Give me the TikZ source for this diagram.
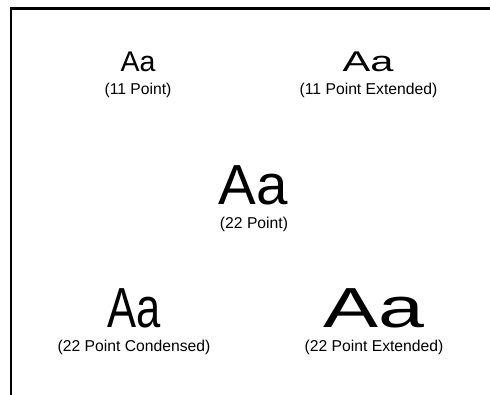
\documentclass[tikz,border=0pt]{standalone}
\usepackage{fontspec}
\setmainfont{Liberation Sans}
\newfontfamily\widefont[FakeStretch=1.46]{Liberation Sans}
\newfontfamily\narrowfont[FakeStretch=0.77]{Liberation Sans}
\usetikzlibrary{positioning}
\tikzstyle{small} = [anchor=base, inner sep=0pt, font=\fontsize{28.5}{30}\selectfont]
\tikzstyle{large} = [anchor=base, inner sep=0pt, font=\fontsize{56.5}{60}\selectfont]
\tikzstyle{caption} = [anchor=base, inner sep=0pt, font=\fontsize{15.7}{17}\selectfont]
\tikzstyle{frame} = [line width=2.5pt, line join=miter]

\begin{document}
\begin{tikzpicture}[x=1pt, y=-1pt]
                    \useasboundingbox (0,0) rectangle (490,395);
                    \draw [frame] (490,8.5) -- (11,8.5) -- (11,395);
                    % top row
                    \node (aa11) [small] at (138,72) {Aa};
                    \node (cap11) [caption] at (138,95) {(11 Point)};
                    \node (aa11ext) [small] at (368,72) {\widefont Aa};
                    \node (cap11ext) [caption] at (368.5,95) {(11 Point Extended)};
                    % middle
                    \node (aa22) [large] at (253,205) {Aa};
                    \node (cap22) [caption] at (254,229) {(22 Point)};
                    % bottom row
                    \node (aa22cond) [large] at (134,328) {\narrowfont Aa};
                    \node (cap22cond) [caption] at (134,352) {(22 Point Condensed)};
                    \node (aa22ext) [large] at (373.5,328) {\widefont Aa};
                    \node (cap22ext) [caption] at (374,352) {(22 Point Extended)};
                \end{tikzpicture}
\end{document}
